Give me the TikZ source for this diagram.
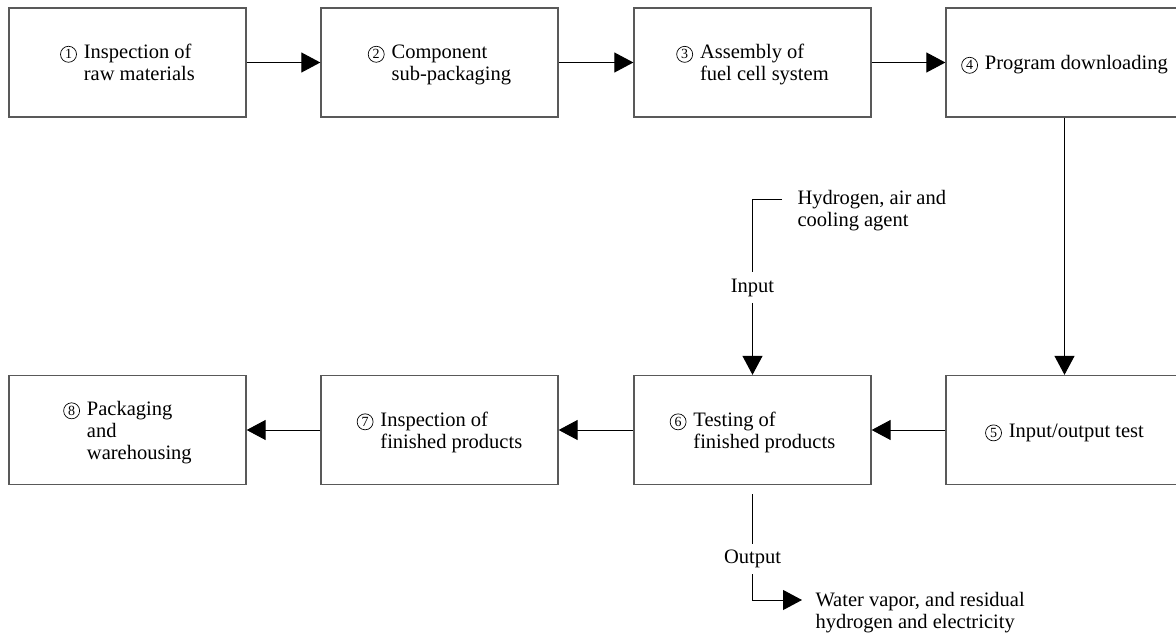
\documentclass[tikz,border=0pt]{standalone}
\usepackage{fontspec}
\setmainfont{Liberation Serif}
\usetikzlibrary{arrows.meta}
\newcommand{\cnum}[1]{\tikz[baseline=(cn.base)]\node[circle,draw=black,line width=0.7pt,inner sep=0pt,minimum size=16pt,font=\fontsize{14}{14}\selectfont] (cn) {#1};}
\newcommand{\steptext}[2]{\raisebox{-3pt}[\height][\depth]{\cnum{#1}\hspace{7pt}\begin{tabular}[t]{@{}l@{}}#2\end{tabular}}}
\tikzset{
  stepbox/.style={draw=black!65,line width=1.3pt,minimum width=237pt,minimum height=109pt,inner sep=0pt},
  flowlbl/.style={inner sep=6pt},
  flownote/.style={inner sep=0pt,anchor=west,align=left}
}
\begin{document}
\begin{tikzpicture}[x=1pt,y=-1pt,>={Triangle[length=19pt,width=20pt]},line width=1pt,
  font=\fontsize{20.5}{22}\selectfont]
  \useasboundingbox (0,0) rectangle (1176,634);
  % process steps
  \node[stepbox] (s1) at (127.5,62.5) {\steptext{1}{Inspection of\\raw materials}};
  \node[stepbox] (s2) at (439.5,62.5) {\steptext{2}{Component\\sub-packaging}};
  \node[stepbox] (s3) at (752.5,62.5) {\steptext{3}{Assembly of\\fuel cell system}};
  \node[stepbox] (s4) at (1064.5,62.5) {\steptext{4}{Program downloading}};
  \node[stepbox] (s5) at (1064.5,430) {\steptext{5}{Input/output test}};
  \node[stepbox] (s6) at (752.5,430) {\steptext{6}{Testing of\\finished products}};
  \node[stepbox] (s7) at (439.5,430) {\steptext{7}{Inspection of\\finished products}};
  \node[stepbox] (s8) at (127.5,430) {\steptext{8}{Packaging\\and\\warehousing}};
  \draw[->] (s1) -- (s2);
  \draw[->] (s2) -- (s3);
  \draw[->] (s3) -- (s4);
  \draw[->] (s4) -- (s5);
  \draw[->] (s5) -- (s6);
  \draw[->] (s6) -- (s7);
  \draw[->] (s7) -- (s8);
  % input to the test
  \node[flownote] (hyd) at (797,211) {Hydrogen, air and\\cooling agent};
  \coordinate (hin) at (782,199);
  \node[flowlbl] (inp) at (752.5,287.5) {Input};
  \draw (hin) -| (inp);
  \draw[->] (inp) -- (s6);
  % output of the test
  \coordinate (oout) at ([yshift=-9pt]s6.south);
  \node[flowlbl] (outp) at (752.5,559) {Output};
  \node[flownote] (wat) at (815,613) {Water vapor, and residual\\hydrogen and electricity};
  \coordinate (oend) at (802,600);
  \draw (oout) -- (outp);
  \draw[->] (outp) |- (oend);
\end{tikzpicture}
\end{document}
